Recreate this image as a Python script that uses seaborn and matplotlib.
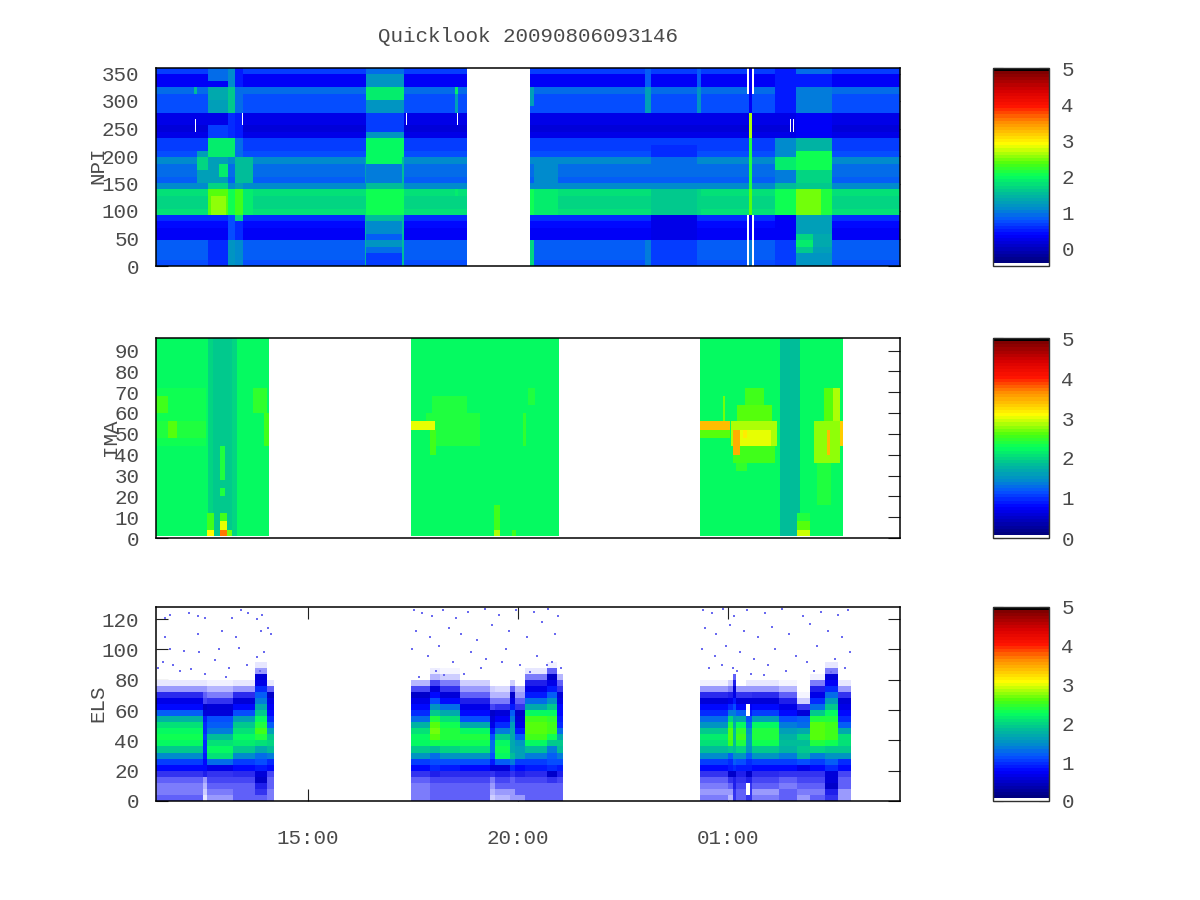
import numpy as np
import pandas as pd
import matplotlib
matplotlib.use("Agg")
import matplotlib.pyplot as plt
from matplotlib.colors import LinearSegmentedColormap, ListedColormap
import seaborn as sns

# ---------- shared ----------
n_minutes = 1063                 # x axis length in minutes
time_ticks = [217, 517, 817]     # minutes from the axis start
time_labels = ["15:00", "20:00", "01:00"]
title_text = "Quicklook 20090806093146"

# ---------- NPI: sector (31 rows, bottom-up), value per row ----------
npi_base = [.75, .8, .8, .85, .3, .35, .4, .55, 1.75, 1.7, 1.7, 1.75, 1.1, .85, .9, .9,
            1.05, .75, .7, .7, .2, .15, .2, .25, .72, .75, .75, .95, .35, .3, .62]
npi_ticks = [0, 50, 100, 150, 200, 250, 300, 350]
npi_gap = (444, 534)
# (t0, t1, first row, last row, value)
npi_patches = [
    (59, 74, 13, 17, 1.3), (59, 74, 15, 16, 1.65), (55, 59, 27, 27, 1.5),
    (74, 103, 0, 3, .55), (74, 103, 8, 11, 2.4), (78, 100, 8, 10, 2.55), (74, 103, 12, 12, 1.7), (74, 103, 13, 16, 1.3),
    (90, 103, 14, 15, 1.9), (74, 103, 17, 19, 1.85), (74, 103, 20, 21, .7), (74, 103, 24, 25, 1.3),
    (74, 103, 26, 27, 1.35), (74, 103, 29, 30, .9),
    (103, 113, 0, 3, 1.15), (103, 113, 4, 7, .75), (103, 113, 8, 11, 2.0), (103, 113, 17, 19, 1.85),
    (103, 113, 20, 23, .55), (103, 113, 24, 27, 1.6), (103, 113, 28, 30, 1.05),
    (113, 125, 0, 3, 1.1), (113, 125, 4, 6, .6), (113, 125, 7, 7, 1.7), (113, 125, 8, 11, 2.3),
    (113, 125, 12, 12, 1.3), (113, 125, 17, 19, .95), (113, 125, 20, 23, .5), (113, 125, 24, 27, .9),
    (113, 125, 28, 30, .45), (113, 138, 13, 16, 1.5), (125, 138, 8, 11, 1.9),
    (298, 301, 0, 7, 1.45), (298, 301, 13, 16, 1.3),
    (300, 354, 0, 1, .7), (300, 354, 2, 2, .9), (300, 354, 3, 3, 1.15), (300, 354, 4, 4, .85),
    (300, 354, 5, 6, 1.05), (300, 354, 7, 7, 1.55), (300, 354, 8, 11, 2.05), (300, 354, 12, 12, 1.55),
    (300, 354, 13, 15, 1.0), (300, 354, 16, 19, 1.95), (300, 354, 20, 20, 1.15), (300, 354, 21, 23, .7),
    (300, 354, 24, 25, 1.2), (300, 354, 26, 27, 1.85), (300, 354, 28, 29, 1.2), (300, 354, 30, 30, .95),
    (352, 355, 0, 7, 1.55), (352, 355, 13, 16, 1.5),
    (427, 431, 11, 11, 1.9), (427, 431, 24, 26, 1.3), (427, 431, 27, 27, 1.9),
    (534, 540, 0, 3, 1.65), (534, 540, 8, 11, 2.0), (534, 540, 25, 27, 1.25),
    (540, 575, 8, 11, 1.9), (540, 575, 13, 16, 1.05),
    (699, 707, 0, 3, 1.0), (699, 707, 24, 27, 1.3), (699, 707, 28, 30, .85),
    (707, 773, 0, 3, .68), (707, 773, 4, 7, .25), (707, 773, 8, 11, 1.62), (707, 773, 16, 16, .95),
    (707, 773, 17, 18, .6),
    (773, 778, 8, 11, 1.65), (773, 778, 24, 27, 1.15), (773, 778, 28, 30, .85),
    (847, 851, 0, 3, 1.0), (847, 851, 4, 7, .35), (847, 851, 8, 11, 2.4), (847, 851, 12, 19, 2.1),
    (847, 851, 20, 23, 2.6), (847, 851, 24, 27, .35), (847, 851, 28, 30, .35),
    (884, 914, 0, 3, .65), (884, 914, 4, 7, .3), (884, 914, 8, 11, 2.05), (884, 914, 12, 12, 1.5),
    (884, 914, 13, 14, 1.0), (884, 914, 15, 16, 1.85), (884, 914, 17, 19, 1.1), (884, 914, 24, 27, .5),
    (884, 914, 28, 30, .5),
    (914, 966, 0, 1, 1.15), (914, 966, 2, 2, 1.3), (914, 966, 3, 4, 1.35), (914, 938, 2, 2, 1.6),
    (914, 938, 3, 3, 1.85), (914, 938, 4, 4, 1.65),
    (914, 966, 5, 7, 1.25), (914, 966, 8, 11, 2.1), (914, 950, 8, 11, 2.45), (914, 966, 12, 12, 1.6),
    (914, 966, 13, 14, 1.65), (914, 966, 15, 17, 2.05), (914, 966, 18, 19, 1.4), (914, 966, 20, 23, .35),
    (914, 966, 24, 27, 1.0), (914, 966, 28, 29, .5), (914, 966, 30, 30, .95),
]
# empty cells inside the record (t0, t1, first row, last row)
npi_holes = [
    (845, 847, 0, 7), (845, 847, 27, 30), (851, 854, 0, 7), (851, 854, 27, 30),
    (56, 57, 21, 22), (123, 124, 22, 23), (357, 358, 22, 23), (430, 431, 22, 23),
    (891, 892, 21, 22), (901, 902, 23, 24), (906, 907, 21, 22), (910, 911, 21, 22),
    (891, 892, 28, 29), (901, 902, 28, 29),
]

# ---------- IMA: energy bins of 4 (24 rows, bottom-up) ----------
ima_base = [2.2, 2.25, 2.2, 2.25, 2.2, 2.2, 2.25, 2.2, 2.2, 2.2, 2.2, 2.2,
            2.2, 2.2, 2.2, 2.2, 2.2, 2.25, 2.2, 2.2, 2.25, 2.2, 2.25, 2.25]
ima_ticks = [0, 10, 20, 30, 40, 50, 60, 70, 80, 90]
ima_blocks = [(0, 161), (364, 576), (777, 981)]
ima_patches = [
    (0, 72, 11, 17, 2.28), (0, 72, 12, 13, 2.4), (17, 30, 12, 13, 2.6), (0, 17, 15, 16, 2.55),
    (74, 116, 0, 23, 1.98), (82, 108, 0, 23, 1.88),
    (139, 159, 15, 17, 2.45), (155, 161, 11, 14, 2.55),
    (91, 99, 7, 10, 2.4), (91, 99, 5, 5, 2.4),
    (73, 83, 1, 2, 2.55), (73, 83, 0, 0, 3.1), (91, 101, 2, 2, 2.5), (91, 101, 1, 1, 3.0),
    (91, 101, 0, 0, 3.7), (101, 108, 0, 0, 2.7),
    (395, 445, 15, 16, 2.35), (386, 463, 14, 14, 2.35), (399, 463, 11, 13, 2.35), (364, 399, 13, 13, 3.0),
    (392, 400, 10, 12, 2.55),
    (483, 491, 0, 3, 2.55), (483, 491, 0, 0, 2.85), (508, 514, 0, 0, 2.5),
    (531, 541, 16, 17, 2.4), (525, 529, 11, 14, 2.45),
    (810, 813, 14, 16, 2.7),
    (825, 885, 9, 10, 2.5), (822, 887, 11, 13, 2.85), (835, 878, 11, 12, 3.0), (830, 880, 14, 15, 2.65),
    (842, 868, 16, 17, 2.5), (828, 845, 8, 8, 2.45),
    (777, 820, 12, 12, 2.65), (777, 820, 13, 13, 3.4), (824, 834, 10, 12, 3.5), (838, 845, 12, 12, 3.2),
    (891, 920, 0, 23, 1.85),
    (916, 934, 2, 2, 2.4), (916, 934, 1, 1, 2.6), (916, 934, 0, 0, 2.9),
    (945, 965, 4, 8, 2.35), (940, 977, 9, 13, 2.75), (955, 977, 14, 17, 2.6), (959, 963, 10, 12, 3.4),
    (967, 977, 14, 17, 2.85), (977, 981, 11, 13, 3.3),
]

# ---------- ELS: energy bins of 4 (32 rows, bottom-up), profile per time span ----------
# values under 0.5 stand for the thin scatter of single counts (its density)
els_ticks = [0, 20, 40, 60, 80, 100, 120]
els_spans = [
    (0, 67), (67, 73), (73, 110), (110, 141), (141, 159), (159, 169),
    (364, 391), (391, 406), (406, 434), (434, 477), (477, 484), (484, 506), (506, 513), (513, 527),
    (527, 559), (559, 573), (573, 581),
    (777, 817), (817, 824), (824, 829), (829, 843), (843, 851), (851, 890), (890, 916), (916, 934),
    (934, 956), (956, 974), (974, 993),
]
els_profiles = [
    [.3, .25, .25, .3, .4, .8, 1.05, 1.45, 1.9, 2.2, 2.3, 2.25, 2.1, 1.75, 1.2, .85, .65, .42, .2, .05],
    [.05, .1, .15, .2, .45, .8, .85, .9, .95, 1., 1.05, 1., 1., .9, .6, .5, .35, .3, .2, .05],
    [.2, .25, .3, .35, .4, .7, 1.3, 2.1, 2.25, 2.1, 1.85, 1.4, 1.2, 1.15, .6, .55, .4, .25, .15, .03],
    [.3, .3, .3, .35, .42, .85, 1.05, 1.45, 1.9, 2.15, 2.2, 2.1, 1.95, 1.6, 1.1, .8, .6, .42, .2, .05],
    [.3, .4, .45, .5, .55, .9, 1.1, 1.3, 1.7, 2.1, 2.4, 2.5, 2.4, 2.2, 1.9, 1.7, 1.4, 1.2, .95, .7, .55, .2, .05],
    [.25, .25, .3, .3, .35, .8, 1.0, 1.4, 1.85, 2.0, 1.9, 1.6, 1.2, 1.0, .85, .75, .65, .5, .3, .05],
    [.25, .25, .25, .3, .4, .8, 1.05, 1.5, 1.95, 2.2, 2.25, 2.1, 1.75, 1.3, 1.0, .8, .65, .5, .35, .15],
    [.3, .3, .3, .35, .45, .95, 1.1, 1.3, 1.8, 2.3, 2.6, 2.7, 2.6, 2.4, 1.9, 1.5, 1.1, .8, .55, .35, .15, .04],
    [.3, .3, .3, .35, .42, .9, 1.1, 1.5, 2.0, 2.3, 2.4, 2.4, 2.3, 2.1, 1.65, 1.25, .85, .6, .4, .25, .1, .02],
    [.3, .3, .3, .35, .42, .85, 1.1, 1.55, 2.1, 2.3, 2.35, 2.2, 1.7, 1.15, .85, .65, .45, .3, .2, .1],
    [.1, .15, .2, .25, .4, .6, .9, 1.1, 1.3, 1.3, 1.1, .9, .7, .6, .5, .35, .25, .15, .1],
    [.15, .2, .3, .35, .45, .6, 1.2, 2.2, 2.3, 2.2, 1.9, 1.4, 1.0, .75, .55, .4, .25, .15, .08],
    [.2, .2, .3, .3, .4, 1, 1.4, 1.8, 1.7, 1.7, 1.7, 1.7, 1.6, 1.4, 1.2, .9, .7, .5, .3, .1],
    [.2, .3, .3, .35, .45, .8, 1.05, 1.6, 1.6, 1.5, 1.2, .9, .7, .6, .5, .4, .3, .2, .15],
    [.3, .3, .3, .35, .42, .9, 1.05, 1.4, 1.8, 2.25, 2.55, 2.65, 2.6, 2.5, 2.2, 1.7, 1.3, .9, .65, .45, .25, .05],
    [.3, .3, .3, .4, .5, 1, 1.1, 1.2, 1.4, 1.9, 2.3, 2.5, 2.55, 2.45, 2.2, 1.9, 1.5, 1.2, .9, .65, .5, .3, .03],
    [.3, .3, .3, .35, .45, .9, 1.1, 1.4, 1.8, 1.9, 1.7, 1.3, 1.0, .9, .85, .8, .7, .55, .4, .3, .15],
    [.25, .2, .25, .3, .4, .8, 1.05, 1.45, 1.85, 2.1, 2.15, 1.9, 1.55, 1.25, 1.0, .8, .6, .42, .2, .03],
    [.15, .2, .3, .4, .5, .9, 1, 1.2, 1.9, 2.5, 2.65, 2.6, 2.4, 2, 1.4, 1, .7, .45, .25, .1],
    [.4, .4, .45, .45, .5, 1, 1.2, 1.5, 1.8, 1.8, 1.8, 1.8, 1.7, 1.6, 1.4, 1.1, .9, .7, .55, .45, .3],
    [.3, .3, .35, .4, .45, .9, 1.1, 1.5, 2, 2.35, 2.5, 2.45, 2.2, 1.7, 1.2, .85, .6, .4, .2],
    [.4, .4, .4, .45, .5, .9, 1, 1.2, 1.5, 1.6, 1.6, 1.5, 1.3, 1.1, .9, .75, .6, .4, .2, .05],
    [.25, .2, .3, .35, .42, .85, 1.05, 1.5, 1.95, 2.3, 2.4, 2.35, 2.2, 1.6, 1.05, .8, .6, .42, .2, .05],
    [.3, .3, .25, .3, .4, .85, 1.05, 1.4, 1.75, 1.8, 1.75, 1.6, 1.35, 1.1, .85, .65, .45, .3, .15, .02],
    [.2, .25, .3, .35, .4, .7, 1.1, 1.75, 1.95, 1.8, 2.0, 1.7, 1.3, 1.2, .55, .4, .1, .02],
    [.3, .25, .3, .35, .4, .85, 1.05, 1.4, 2.0, 2.4, 2.6, 2.65, 2.6, 2.4, 1.9, 1.3, .95, .7, .45, .25, .03],
    [.4, .45, .5, .55, .6, 1, 1.2, 1.5, 1.9, 2.3, 2.5, 2.55, 2.5, 2.35, 2.2, 1.9, 1.6, 1.25, .95, .75, .55, .25, .05],
    [.2, .2, .3, .3, .35, .85, 1.0, 1.5, 1.95, 2.1, 2.05, 1.7, 1.2, 1, .85, .7, .55, .4, .2, .05],
]
els_holes = [(843, 849, 14, 15), (843, 849, 1, 2)]
# single counts seen above the main population
els_dot_minutes = [13, 20, 47, 60, 70, 122, 132, 152, 108, 144, 13, 60, 95, 115, 150, 165, 160, 20, 40, 62,
                   90, 118, 145, 155, 10, 25, 50, 70, 85, 105, 130, 3, 35, 100, 148,
                   368, 380, 395, 410, 428, 446, 470, 490, 515, 540, 560, 575, 372, 392, 418, 436, 458,
                   480, 505, 530, 552, 570, 366, 388, 405, 425, 450, 472, 500, 520, 545, 566, 578, 400,
                   440, 465, 535, 558, 376, 412, 494,
                   782, 795, 810, 826, 845, 870, 895, 925, 950, 975, 988, 785, 800, 820, 840, 860, 880,
                   905, 935, 960, 980, 780, 798, 815, 835, 855, 885, 915, 945, 970, 992, 790, 808, 830,
                   850, 875, 900, 930, 965, 985, 824, 868, 940]
els_dot_energy = [121, 123, 124, 122, 121, 126, 124, 123, 121, 120, 108, 110, 112, 108, 112, 110, 114, 100, 99, 98,
                  100, 101, 95, 98, 92, 90, 87, 84, 93, 88, 90, 88, 86, 82, 86,
                  126, 124, 122, 126, 121, 125, 127, 123, 126, 125, 127, 122, 112, 108, 114, 110, 106,
                  116, 112, 108, 118, 110, 100, 96, 102, 92, 98, 94, 100, 90, 96, 92, 88, 86,
                  84, 88, 85, 90, 82, 83, 92,
                  126, 124, 127, 122, 126, 124, 127, 122, 125, 123, 126, 114, 110, 116, 112, 108, 115,
                  110, 117, 112, 108, 100, 96, 102, 98, 94, 100, 96, 102, 94, 98, 88, 90, 86,
                  84, 90, 86, 92, 85, 88, 88, 83, 86]

# ---------- palette: white, blue, teal, green, yellow, red, black ----------
palette_stops = [(0.0, (0, 0, .5)), (.14, (0, 0, 1)), (.22, (.02, .33, 1)), (.28, (0, .55, .8)), (.36, (0, .74, .6)),
                 (.45, (.02, 1, .36)), (.52, (.3, 1, .05)), (.62, (1, 1, 0)), (.74, (1, .55, 0)),
                 (.82, (1, .08, 0)), (.9, (.85, 0, 0)), (1.0, (.5, 0, 0))]
inner = LinearSegmentedColormap.from_list("inner", palette_stops, N=62)
cmap = ListedColormap([(1, 1, 1, 1)] + [inner(i) for i in range(62)] + [(0, 0, 0, 1)])
speckle_cmap = LinearSegmentedColormap.from_list("speckle", [(1, 1, 1), (.68, .68, 1), (.3, .3, .97), (.05, .05, .9)])

# ---------- build the grids ----------
def empty(rows):
    return np.full((rows, n_minutes), np.nan)

npi = empty(len(npi_base))
for i, v in enumerate(npi_base):
    npi[i, :] = v
for t0, t1, r0, r1, v in npi_patches:
    npi[r0:r1 + 1, t0:t1] = v
npi[:, npi_gap[0]:npi_gap[1]] = np.nan
for t0, t1, r0, r1 in npi_holes:
    npi[r0:r1 + 1, t0:t1] = np.nan

ima = empty(len(ima_base))
for t0, t1 in ima_blocks:
    for i, v in enumerate(ima_base):
        ima[i, t0:t1] = v
for t0, t1, r0, r1, v in ima_patches:
    ima[r0:r1 + 1, t0:t1] = v

els = empty(32)
for (t0, t1), prof in zip(els_spans, els_profiles):
    els[:len(prof), t0:t1] = np.array(prof)[:, None]
for t0, t1, r0, r1 in els_holes:
    els[r0:r1 + 1, t0:t1] = np.nan
els_main = np.where(els >= .5, els, np.nan)
els_thin = np.where(els < .5, els, np.nan)

# ---------- figure ----------
sns.set_theme(style="white")
plt.rcParams["font.family"] = ["Liberation Mono", "DejaVu Sans"]
fs = 15
ink = "#4a4a4a"
W, H = 1200, 900
fig = plt.figure(figsize=(12, 9), dpi=100, facecolor="white")

def px_axes(x0, y0, x1, y1):
    return fig.add_axes([x0 / W, 1 - y1 / H, (x1 - x0) / W, (y1 - y0) / H])

def finish(ax, cax, ticks, per_row, rows, cb_ticks):
    ax.set_xlim(0, n_minutes)
    ax.set_ylim(0, rows)
    ax.set_xlabel("")
    ax.set_ylabel("")
    ax.set_yticks([t / per_row for t in ticks])
    ax.set_yticklabels([str(t) for t in ticks], rotation=0, fontsize=fs, color=ink)
    ax.set_xticks([])
    ax.tick_params(axis="y", direction="in", left=True, right=True, length=8.6, width=.8, pad=12, color="#202020")
    for s in ax.spines.values():
        s.set_visible(True)
        s.set_linewidth(1.1)
        s.set_color("black")
        s.set_zorder(5)
    cb = ax.collections[0].colorbar
    cb.set_ticks(cb_ticks)
    cb.set_ticklabels([str(t) for t in cb_ticks])
    cb.outline.set_visible(True)
    cb.outline.set_linewidth(1.0)
    cb.outline.set_edgecolor("#303030")
    cax.tick_params(axis="y", direction="in", left=True, right=True, labelleft=False, labelright=True,
                    length=7, width=.8, pad=9, labelsize=fs, labelcolor=ink, color="#202020")

# NPI
ax1 = px_axes(156, 68, 900, 266)
cax1 = px_axes(993, 68, 1049, 266)
sns.heatmap(pd.DataFrame(npi), ax=ax1, cbar_ax=cax1, cmap=cmap, vmin=-.5, vmax=5,
            xticklabels=False, yticklabels=False)
finish(ax1, cax1, npi_ticks, 360 / len(npi_base), len(npi_base), [0, 1, 2, 3, 4, 5])

# IMA
ax2 = px_axes(156, 338, 900, 538)
cax2 = px_axes(993, 338, 1049, 538)
sns.heatmap(pd.DataFrame(ima), ax=ax2, cbar_ax=cax2, cmap=cmap, vmin=0, vmax=5,
            xticklabels=False, yticklabels=False)
ax2.axhspan(0, .25, color="white", lw=0, zorder=3)
finish(ax2, cax2, ima_ticks, 4, len(ima_base), [0, 1, 2, 3, 4, 5])

# ELS
ax3 = px_axes(156, 607, 900, 801)
cax3 = px_axes(993, 607, 1049, 801)
sns.heatmap(pd.DataFrame(els_main), ax=ax3, cbar_ax=cax3, cmap=cmap, vmin=0, vmax=5,
            xticklabels=False, yticklabels=False)
sns.heatmap(pd.DataFrame(els_thin), ax=ax3, cbar=False, cmap=speckle_cmap, vmin=0, vmax=.5,
            xticklabels=False, yticklabels=False)
sns.scatterplot(x=els_dot_minutes, y=[e / 4 for e in els_dot_energy], ax=ax3, marker="s", s=3,
                linewidth=0, color="#6a6af0", legend=False)
finish(ax3, cax3, els_ticks, 4, 32, [0, 1, 2, 3, 4, 5])
ax3.set_xticks(time_ticks)
ax3.set_xticklabels(time_labels, rotation=0, fontsize=fs, color=ink)
ax3.tick_params(axis="x", direction="in", bottom=True, top=True, length=8.6, width=.8, pad=20, color="#202020")

# Texts
fig.text(528 / W, 1 - 37 / H, title_text, ha="center", va="center", fontsize=fs, color=ink)
for label, x, y in [("NPI", 98, 165), ("IMA", 111, 437), ("ELS", 98, 703)]:
    fig.text(x / W, 1 - y / H, label, rotation=90, ha="center", va="center", fontsize=fs, color=ink)

fig.savefig("out.png", dpi=100, facecolor="white")
